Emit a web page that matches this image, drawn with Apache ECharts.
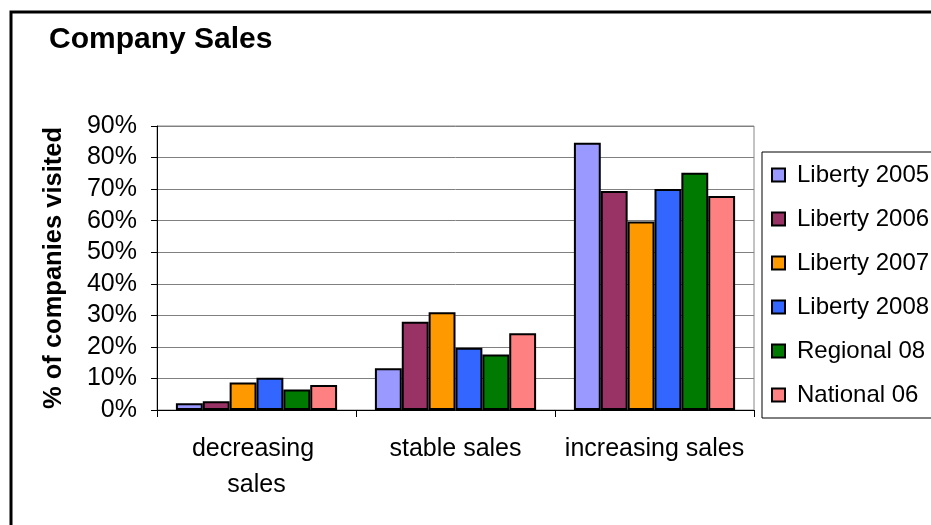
<!DOCTYPE html>
<html>
<head>
<meta charset="utf-8">
<script src="https://cdn.jsdelivr.net/npm/echarts@6/dist/echarts.min.js"></script>
<style>
html,body{margin:0;padding:0;background:#fff;}
#chart{width:931px;height:525px;}
</style>
</head>
<body>
<div id="chart"></div>
<script>
const categories = ['decreasing sales', 'stable sales', 'increasing sales'];
const seriesNames = ['Liberty 2005', 'Liberty 2006', 'Liberty 2007', 'Liberty 2008', 'Regional 08', 'National 06'];
const liberty2005 = [2.1, 13.2, 84.7];
const liberty2006 = [2.8, 28.0, 69.4];
const liberty2007 = [8.7, 31.0, 59.7];
const liberty2008 = [10.2, 19.7, 70.0];
const regional08 = [6.5, 17.6, 75.2];
const national06 = [7.9, 24.3, 67.8];
const yTicks = [0, 10, 20, 30, 40, 50, 60, 70, 80, 90];
const colors = ['#9999FF', '#993366', '#FF9900', '#3366FF', '#007A00', '#FF8080'];

const values = [liberty2005, liberty2006, liberty2007, liberty2008, regional08, national06];
const FONT = '"Liberation Sans", Arial, sans-serif';

const chart = echarts.init(document.getElementById('chart'), null, {renderer: 'canvas'});
chart.setOption({
  animation: false,
  backgroundColor: '#fff',
  textStyle: {fontFamily: FONT, color: '#000'},
  title: {
    text: 'Company Sales',
    left: 44, top: 20,
    textStyle: {fontFamily: FONT, fontSize: 30, fontWeight: 'bold', color: '#000'}
  },
  graphic: [{
    type: 'rect', z: -1, silent: true,
    shape: {x: 11, y: 12, width: 1000, height: 600},
    style: {fill: 'none', stroke: '#000', lineWidth: 3}
  }],
  legend: {
    orient: 'vertical',
    left: 762, top: 152,
    padding: [11, 30, 11, 9],
    itemGap: 20,
    itemWidth: 13, itemHeight: 13,
    icon: 'rect',
    backgroundColor: '#fff',
    borderColor: '#000', borderWidth: 1,
    itemStyle: {borderColor: '#000', borderWidth: 2},
    textStyle: {fontFamily: FONT, fontSize: 24, color: '#000', lineHeight: 24, padding: [0, 0, 0, 7]},
    data: seriesNames
  },
  grid: {
    left: 157, right: 177, top: 126, bottom: 115,
    show: true, borderColor: '#888', borderWidth: 1
  },
  xAxis: {
    type: 'category',
    data: categories,
    boundaryGap: true,
    axisLine: {lineStyle: {color: '#000', width: 1}},
    axisTick: {show: true, length: 7, alignWithLabel: false, lineStyle: {color: '#000'}},
    axisLabel: {
      interval: 0, color: '#000', fontFamily: FONT, fontSize: 25,
      lineHeight: 36, margin: 21, width: 185, overflow: 'break'
    }
  },
  yAxis: {
    type: 'value',
    min: yTicks[0], max: yTicks[yTicks.length - 1], interval: 10,
    name: '% of companies visited',
    nameLocation: 'middle',
    nameGap: 90,
    nameTextStyle: {fontFamily: FONT, fontSize: 25.5, fontWeight: 'bold', color: '#000'},
    axisLine: {show: true, lineStyle: {color: '#000', width: 1}},
    axisTick: {show: true, length: 6, lineStyle: {color: '#000'}},
    axisLabel: {formatter: '{value}%', color: '#000', fontFamily: FONT, fontSize: 25, margin: 20},
    splitLine: {show: true, lineStyle: {color: '#808080', width: 1}}
  },
  series: seriesNames.map((name, i) => ({
    name: name,
    type: 'bar',
    data: values[i],
    barGap: '0%',
    barCategoryGap: '19%',
    itemStyle: {color: colors[i], borderColor: '#000', borderWidth: 2}
  }))
});
</script>
</body>
</html>
